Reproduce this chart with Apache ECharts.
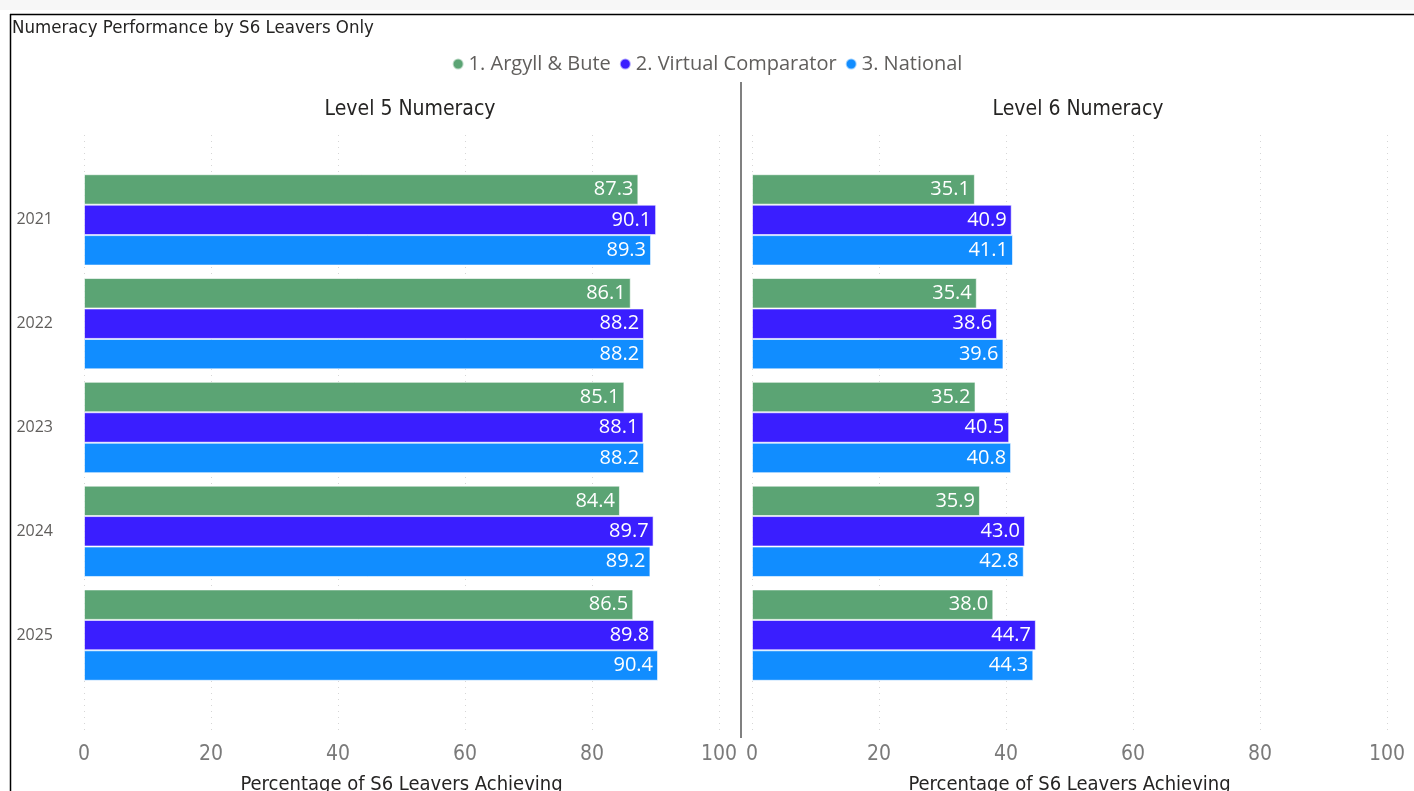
<!DOCTYPE html>
<html>
<head>
<meta charset="utf-8">
<script src="https://cdn.jsdelivr.net/npm/echarts@6/dist/echarts.min.js"></script>
<style>
  html, body { margin: 0; padding: 0; background: #ffffff; }
  #chart { width: 1414px; height: 791px; }
</style>
</head>
<body>
<div id="chart"></div>
<script>
// Academic years (rows) and the three comparison groups
const years = ['2021', '2022', '2023', '2024', '2025'];
const seriesNames = ['1. Argyll & Bute', '2. Virtual Comparator', '3. National'];
const seriesColors = ['#5BA474', '#3A1EFF', '#118DFF'];

// Level 5 Numeracy: % of S6 leavers achieving
const level5ArgyllBute = [87.3, 86.1, 85.1, 84.4, 86.5];
const level5Virtual    = [90.1, 88.2, 88.1, 89.7, 89.8];
const level5National   = [89.3, 88.2, 88.2, 89.2, 90.4];

// Level 6 Numeracy: % of S6 leavers achieving
const level6ArgyllBute = [35.1, 35.4, 35.2, 35.9, 38.0];
const level6Virtual    = [40.9, 38.6, 40.5, 43.0, 44.7];
const level6National   = [41.1, 39.6, 40.8, 42.8, 44.3];

const xTicks = [0, 20, 40, 60, 80, 100];

const chart = echarts.init(document.getElementById('chart'));

const labelFont = '"Open Sans", "Noto Sans", sans-serif';
const dinFont = '"DejaVu Sans Condensed", "DejaVu Sans", sans-serif';

// panel geometry: left edge and width of each value axis
const panels = [
  { left: 84, width: 635, title: 'Level 5 Numeracy', data: [level5ArgyllBute, level5Virtual, level5National] },
  { left: 752, width: 635, title: 'Level 6 Numeracy', data: [level6ArgyllBute, level6Virtual, level6National] }
];

const grids = [], xAxes = [], yAxes = [], series = [];

panels.forEach((p, pi) => {
  // bar grid
  grids.push({ left: p.left, width: p.width, top: 168, height: 519, containLabel: false, outerBoundsMode: 'none' });
  // background grid: dotted gridlines and tick labels
  grids.push({ left: p.left, width: p.width, top: 135, height: 600, containLabel: false, outerBoundsMode: 'none' });
  const barGrid = pi * 2, bgGrid = pi * 2 + 1;

  xAxes.push({
    type: 'value', gridIndex: barGrid, min: 0, max: 100, interval: 20,
    axisLine: { show: false }, axisTick: { show: false },
    axisLabel: { show: false }, splitLine: { show: false }
  });
  xAxes.push({
    type: 'value', gridIndex: bgGrid, min: 0, max: 100, interval: 20,
    axisLine: { show: false }, axisTick: { show: false },
    axisLabel: {
      show: true, color: '#7a7a7a', fontSize: 21, fontFamily: dinFont, margin: 9,
      formatter: v => xTicks.includes(v) ? String(v) : ''
    },
    splitLine: { show: true, lineStyle: { color: '#d6d6d6', type: [1, 5], width: 1 } },
    name: 'Percentage of S6 Leavers Achieving', nameLocation: 'middle', nameGap: 40,
    nameTextStyle: { color: '#252423', fontSize: 20, fontFamily: dinFont }
  });

  yAxes.push({
    type: 'category', gridIndex: barGrid, data: years, inverse: true,
    axisLine: { show: false }, axisTick: { show: false },
    axisLabel: {
      show: pi === 0, color: '#605e5c', fontSize: 16, fontFamily: labelFont,
      margin: 31, align: 'right'
    },
    splitLine: { show: false }
  });
  yAxes.push({
    type: 'category', gridIndex: bgGrid, data: years, show: false
  });

  p.data.forEach((vals, si) => {
    series.push({
      type: 'bar', name: seriesNames[si],
      xAxisIndex: barGrid, yAxisIndex: barGrid,
      data: vals,
      barGap: '0%', barCategoryGap: '12%',
      itemStyle: { color: seriesColors[si], borderColor: 'rgba(255,255,255,0.6)', borderWidth: 1 },
      label: {
        show: true, position: 'insideRight', distance: 5,
        color: '#ffffff', fontSize: 20, fontFamily: labelFont,
        formatter: d => d.value.toFixed(1)
      },
      emphasis: { disabled: true },
      silent: true
    });
  });
});

chart.setOption({
  animation: false,
  backgroundColor: '#ffffff',
  title: [
    { text: 'Numeracy Performance by S6 Leavers Only', left: 12, top: 19, padding: 0,
      textStyle: { color: '#252423', fontSize: 18.5, fontWeight: 'normal', fontFamily: dinFont } },
    { text: panels[0].title, left: 410, textAlign: 'center', top: 99, padding: 0,
      textStyle: { color: '#252423', fontSize: 21, fontWeight: 'normal', fontFamily: dinFont } },
    { text: panels[1].title, left: 1078, textAlign: 'center', top: 99, padding: 0,
      textStyle: { color: '#252423', fontSize: 21, fontWeight: 'normal', fontFamily: dinFont } }
  ],
  legend: {
    data: seriesNames, top: 49, left: 'center',
    icon: 'circle', itemWidth: 11, itemHeight: 11, itemGap: 8,
    textStyle: { color: '#605e5c', fontSize: 20, fontFamily: labelFont, padding: [0, 0, 0, 0] }
  },
  grid: grids,
  xAxis: xAxes,
  yAxis: yAxes,
  series: series,
  graphic: [
    // light strip above the frame
    { type: 'rect', left: 0, top: 0, shape: { width: 1414, height: 10 }, style: { fill: '#f7f7f7' }, silent: true },
    // frame
    { type: 'line', shape: { x1: 10, y1: 14.5, x2: 1414, y2: 14.5 }, style: { stroke: '#000', lineWidth: 1.5 }, silent: true },
    { type: 'line', shape: { x1: 10.5, y1: 14, x2: 10.5, y2: 791 }, style: { stroke: '#000', lineWidth: 1.5 }, silent: true },
    // divider between the two panels
    { type: 'line', shape: { x1: 741, y1: 82, x2: 741, y2: 738 }, style: { stroke: '#808080', lineWidth: 2 }, silent: true }
  ]
});
</script>
</body>
</html>
